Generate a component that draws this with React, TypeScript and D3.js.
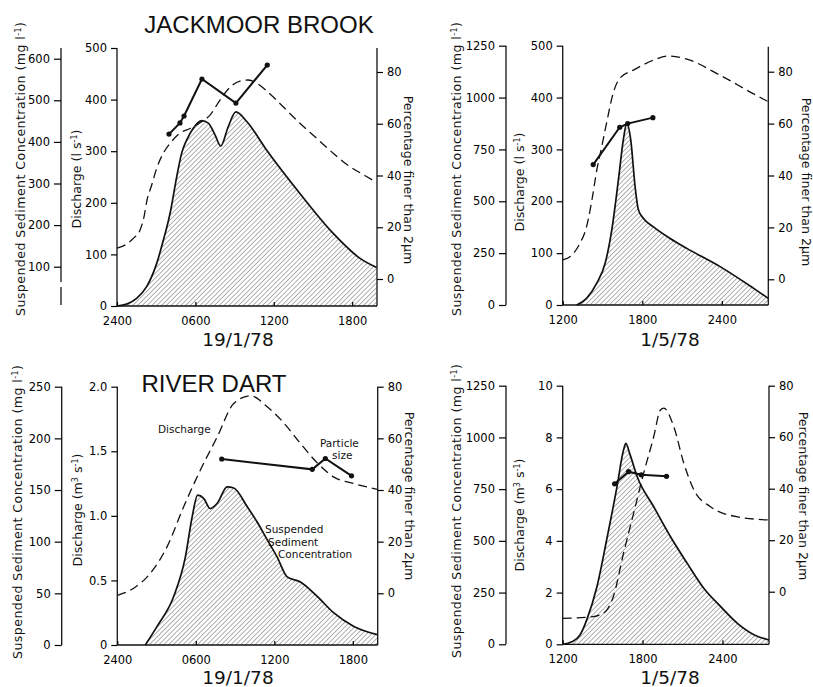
import React, { useEffect, useRef } from 'react'
import * as d3 from 'd3'

type Pt = [number, number]

// hours after midnight; SSC in mg/l, discharge, % finer than 2um
// Jackmoor Brook 19/1/78
const jackJanSsc: Pt[] = [[0, 4], [0.74, 10], [1.5, 24], [2.27, 52], [3.04, 108], [3.55, 164], [4.06, 228], [4.57, 316], [4.95, 373], [5.34, 405], [5.84, 433], [6.48, 451], [6.99, 445], [7.5, 417], [7.94, 390], [8.52, 437], [9.1, 472], [9.93, 449], [11.46, 380], [14.0, 276], [16.55, 180], [18.6, 120], [19.87, 98]]
const jackJanQ: Pt[] = [[0, 112], [0.61, 118], [1.25, 131], [1.76, 147], [2.07, 173], [2.27, 202], [2.65, 234], [3.04, 267], [3.54, 296], [4.06, 315], [4.82, 335], [5.59, 344], [6.35, 355], [7.12, 370], [7.88, 399], [8.65, 424], [9.41, 436], [10.05, 438], [10.69, 432], [11.45, 417], [12.72, 386], [14.0, 354], [15.28, 325], [16.55, 296], [17.83, 270], [19.1, 251], [19.87, 239]]
const jackJanFine: Pt[] = [[3.98, 56], [4.82, 60.3], [5.13, 63], [6.5, 77.3], [9.1, 68], [11.5, 82.7]]

// Jackmoor Brook 1/5/78
const jackMaySsc: Pt[] = [[13.06, 0], [13.8, 32], [14.57, 105], [15.2, 201], [15.7, 362], [16.2, 603], [16.57, 796], [16.83, 876], [17.13, 796], [17.46, 570], [17.7, 461], [18.08, 418], [18.84, 377], [20.1, 321], [21.36, 273], [23.87, 185], [26.4, 80], [27.5, 32]]
const jackMayQ: Pt[] = [[12, 87], [12.68, 96], [13.3, 119], [13.8, 151], [14.2, 202], [14.57, 260], [14.94, 305], [15.3, 350], [15.8, 408], [16.3, 437], [17.33, 453], [18.84, 472], [19.97, 480], [21.36, 474], [23.87, 443], [26.4, 407], [27.5, 392]]
const jackMayFine: Pt[] = [[14.3, 44.2], [16.3, 58.6], [16.9, 60], [18.8, 62.3]]

// River Dart 19/1/78
const dartJanSsc: Pt[] = [[2.14, 0], [3.04, 18], [4.31, 47], [5.2, 85], [5.72, 124], [6.14, 145], [6.6, 142], [7.1, 132], [7.63, 137], [8.4, 153], [8.9, 152], [9.92, 134], [10.69, 119], [11.45, 102], [12.22, 85], [12.98, 66], [14.0, 61], [15.28, 47], [16.55, 31], [18.08, 18], [19.87, 10]]
const dartJanQ: Pt[] = [[0, 0.385], [1.25, 0.44], [2.52, 0.555], [3.8, 0.76], [5.07, 1.07], [6.35, 1.355], [7.63, 1.61], [8.9, 1.87], [10.18, 1.93], [11.45, 1.845], [12.72, 1.72], [14.0, 1.56], [15.28, 1.41], [16.55, 1.3], [18.08, 1.25], [19.87, 1.205]]
const dartJanFine: Pt[] = [[7.98, 52], [14.9, 48], [15.9, 52.2], [17.9, 45.5]]

// River Dart 1/5/78
const dartMaySsc: Pt[] = [[12, 0], [12.68, 12], [13.3, 45], [13.8, 117], [14.57, 278], [15.3, 504], [16.08, 762], [16.57, 939], [16.75, 971], [17.03, 923], [17.6, 810], [18.84, 665], [20.1, 520], [21.36, 391], [22.6, 271], [23.87, 182], [25.13, 101], [26.4, 45], [27.5, 21]]
const dartMayQ: Pt[] = [[12, 1.0], [14.3, 1.07], [15.2, 1.26], [15.8, 1.84], [16.57, 3.52], [17.33, 5.07], [18.08, 6.61], [18.84, 8.03], [19.34, 9.06], [19.6, 9.13], [20.35, 8.41], [21.1, 7.0], [21.86, 5.97], [23.1, 5.32], [25.13, 4.93], [27.5, 4.81]]
const dartMayFine: Pt[] = [[15.9, 41.9], [16.95, 46.6], [17.9, 45.4], [19.8, 44.8]]

const janTicks = [0, 6, 12, 18]
const janTickLabels = ['2400', '0600', '1200', '1800']
const mayTicks = [12, 18, 24]
const mayTickLabels = ['1200', '1800', '2400']
const sscTicksJackJan = [100, 200, 300, 400, 500, 600]
const sscTicksMay = [0, 250, 500, 750, 1000, 1250]
const sscTicksDartJan = [0, 50, 100, 150, 200, 250]
const qTicksJack = [0, 100, 200, 300, 400, 500]
const qTicksDartJan = [0, 0.5, 1, 1.5, 2]
const qTicksDartMay = [0, 2, 4, 6, 8, 10]
const fineTicks = [0, 20, 40, 60, 80]

const tickFont = '"DejaVu Sans", sans-serif'
const headFont = '"Liberation Sans", Arial, sans-serif'

const Axis = ({ axis, transform }: any) => {
  const ref = useRef<SVGGElement>(null)
  useEffect(() => {
    if (!ref.current) return
    const g = d3.select(ref.current)
    g.call(axis)
    g.select('.domain').remove()
    g.attr('font-family', tickFont).attr('font-size', 11.5)
    g.selectAll('line').attr('stroke-width', 1.2)
  }, [axis])
  return <g ref={ref} transform={transform} />
}

const Panel = ({ cfg }: any) => {
  const x = d3.scaleLinear().domain(cfg.xDomain).range([cfg.qX, cfg.rX])
  const q = d3.scaleLinear().domain(cfg.qDomain).range([cfg.bottom, cfg.top])
  const s = d3.scaleLinear().domain(cfg.sDomain).range(cfg.sRange)
  const p = d3.scaleLinear().domain([0, 80]).range(cfg.pRange)

  const sy = (d: Pt) => Math.min(cfg.bottom, s(d[1]))
  const area = d3.area<Pt>().x(d => x(d[0])).y0(cfg.bottom).y1(sy).curve(d3.curveMonotoneX)
  const sscLine = d3.line<Pt>().x(d => x(d[0])).y(sy).curve(d3.curveMonotoneX)
  const qLine = d3.line<Pt>().x(d => x(d[0])).y(d => q(d[1])).curve(d3.curveMonotoneX)
  const fineLine = d3.line<Pt>().x(d => x(d[0])).y(d => p(d[1]))

  const xAxis = d3.axisBottom(x).tickValues(cfg.xTicks)
    .tickFormat((d: any, i: number) => cfg.xLabels[i]).tickSize(-4).tickSizeOuter(0).tickPadding(11)
  const qAxis = d3.axisLeft(q).tickValues(cfg.qTicks).tickFormat(cfg.qFormat).tickSize(6).tickPadding(4)
  const sAxis = d3.axisLeft(s).tickValues(cfg.sTicks).tickFormat(d3.format('d')).tickSize(7).tickPadding(4)
  const pAxis = d3.axisRight(p).tickValues(fineTicks).tickFormat(d3.format('d')).tickSize(6).tickPadding(4)

  const unit = cfg.unit
  return (
    <g>
      <path d={area(cfg.ssc) || ''} fill="url(#hatch)" />
      <path d={sscLine(cfg.ssc) || ''} fill="none" stroke="#111" strokeWidth={1.7} />
      <path d={qLine(cfg.q) || ''} fill="none" stroke="#111" strokeWidth={1.3} strokeDasharray="9 5" />
      <path d={fineLine(cfg.fine) || ''} fill="none" stroke="#111" strokeWidth={2} />
      {cfg.fine.map((d: Pt, i: number) => (
        <circle key={i} cx={x(d[0])} cy={p(d[1])} r={2.6} fill="#111" />
      ))}

      {/* axis lines */}
      <line x1={cfg.qX} x2={cfg.rX} y1={cfg.bottom} y2={cfg.bottom} stroke="#111" strokeWidth={1.3} />
      <line x1={cfg.qX} x2={cfg.qX} y1={cfg.top} y2={cfg.bottom} stroke="#111" strokeWidth={1.3} />
      <line x1={cfg.rX} x2={cfg.rX} y1={cfg.rTop} y2={cfg.bottom} stroke="#111" strokeWidth={1.3} />
      {cfg.sSegs.map((seg: number[], i: number) => (
        <line key={i} x1={cfg.sX} x2={cfg.sX} y1={seg[0]} y2={seg[1]} stroke="#111" strokeWidth={1.3} />
      ))}

      <Axis axis={xAxis} transform={`translate(0,${cfg.bottom})`} />
      <Axis axis={qAxis} transform={`translate(${cfg.qX},0)`} />
      <Axis axis={sAxis} transform={`translate(${cfg.sX},0)`} />
      <Axis axis={pAxis} transform={`translate(${cfg.rX},0)`} />

      <g fontFamily={tickFont} fontSize={12.6} fill="#111">
        <text transform={`translate(${cfg.sLab[0]},${cfg.sLab[1]}) rotate(-90)`} textAnchor="middle" dy="0.35em"
          textLength={294} lengthAdjust="spacing">
          Suspended Sediment Concentration (mg l<tspan baselineShift="super" fontSize={8}>-1</tspan>)
        </text>
        <text transform={`translate(${cfg.qLab[0]},${cfg.qLab[1]}) rotate(-90)`} textAnchor="middle" dy="0.35em">
          Discharge ({unit}{unit === 'm' ? <tspan baselineShift="super" fontSize={8}>3</tspan> : null} s<tspan baselineShift="super" fontSize={8}>-1</tspan>)
        </text>
        <text transform={`translate(${cfg.pLab[0]},${cfg.pLab[1]}) rotate(90)`} textAnchor="middle" dy="0.35em">
          Percentage finer than 2μm
        </text>
      </g>
      <text x={cfg.date[0]} y={cfg.date[1]} textAnchor="middle" fontFamily={tickFont} fontSize={18.5} fill="#111">
        {cfg.dateText}
      </text>
    </g>
  )
}

const panels = [
  {
    xDomain: [0, 19.9], qX: 117, rX: 377, top: 48, bottom: 306, rTop: 48,
    qDomain: [0, 500], sDomain: [0, 600], sRange: [308.3, 58.7], pRange: [279, 72],
    sX: 61, sSegs: [[48, 282], [287, 305]],
    xTicks: janTicks, xLabels: janTickLabels, qTicks: qTicksJack, qFormat: d3.format('d'), sTicks: sscTicksJackJan,
    ssc: jackJanSsc, q: jackJanQ, fine: jackJanFine, unit: 'l',
    sLab: [21, 169], qLab: [77, 179], pLab: [408, 180], date: [238, 346], dateText: '19/1/78',
  },
  {
    xDomain: [12, 27.5], qX: 562.7, rX: 768.3, top: 45.7, bottom: 305, rTop: 46.7,
    qDomain: [0, 500], sDomain: [0, 1250], sRange: [305, 45.7], pRange: [279.3, 71.7],
    sX: 506, sSegs: [[45.7, 305]],
    xTicks: mayTicks, xLabels: mayTickLabels, qTicks: qTicksJack, qFormat: d3.format('d'), sTicks: sscTicksMay,
    ssc: jackMaySsc, q: jackMayQ, fine: jackMayFine, unit: 'l',
    sLab: [457, 169], qLab: [520, 182], pLab: [806, 182], date: [670, 346], dateText: '1/5/78',
  },
  {
    xDomain: [0, 19.9], qX: 117.3, rX: 377.7, top: 386.7, bottom: 645, rTop: 386.7,
    qDomain: [0, 2], sDomain: [0, 250], sRange: [645, 386.7], pRange: [593.3, 386.7],
    sX: 61.7, sSegs: [[386.7, 645]],
    xTicks: janTicks, xLabels: janTickLabels, qTicks: qTicksDartJan, qFormat: (d: number) => d === 0 ? '0' : d3.format('.1f')(d), sTicks: sscTicksDartJan,
    ssc: dartJanSsc, q: dartJanQ, fine: dartJanFine, unit: 'm',
    sLab: [18, 512], qLab: [78, 510], pLab: [409, 496], date: [238, 684], dateText: '19/1/78',
  },
  {
    xDomain: [12, 27.5], qX: 562.7, rX: 769, top: 385.7, bottom: 644.3, rTop: 385.7,
    qDomain: [0, 10], sDomain: [0, 1250], sRange: [644.3, 385.7], pRange: [591.7, 385.7],
    sX: 506, sSegs: [[385.7, 644.3]],
    xTicks: mayTicks, xLabels: mayTickLabels, qTicks: qTicksDartMay, qFormat: d3.format('d'), sTicks: sscTicksMay,
    ssc: dartMaySsc, q: dartMayQ, fine: dartMayFine, unit: 'm',
    sLab: [457, 511], qLab: [520, 515], pLab: [803, 496], date: [670, 684], dateText: '1/5/78',
  },
]

export default function App() {
  return (
    <svg width={813} height={687} style={{ position: 'absolute', left: 0, top: 0, background: '#fff' }}>
      <defs>
        <pattern id="hatch" patternUnits="userSpaceOnUse" width={3.4} height={3.4} patternTransform="rotate(45)">
          <line x1={0} y1={0} x2={0} y2={3.4} stroke="#6f6f6f" strokeWidth={1.1} />
        </pattern>
      </defs>
      <rect width={813} height={687} fill="#fff" />
      {panels.map((cfg, i) => <Panel key={i} cfg={cfg} />)}

      <text x={259} y={33} textAnchor="middle" fontFamily={headFont} fontSize={24} fill="#111">JACKMOOR BROOK</text>
      <text x={214} y={392} textAnchor="middle" fontFamily={headFont} fontSize={24} fill="#111">RIVER DART</text>

      <g fontFamily={tickFont} fontSize={10.5} fill="#111">
        <text x={158} y={433}>Discharge</text>
        <text x={320} y={447}>Particle</text>
        <text x={332} y={459}>size</text>
        <text x={265} y={533}>Suspended</text>
        <text x={268} y={545.5}>Sediment</text>
        <text x={278} y={558}>Concentration</text>
      </g>
    </svg>
  )
}
